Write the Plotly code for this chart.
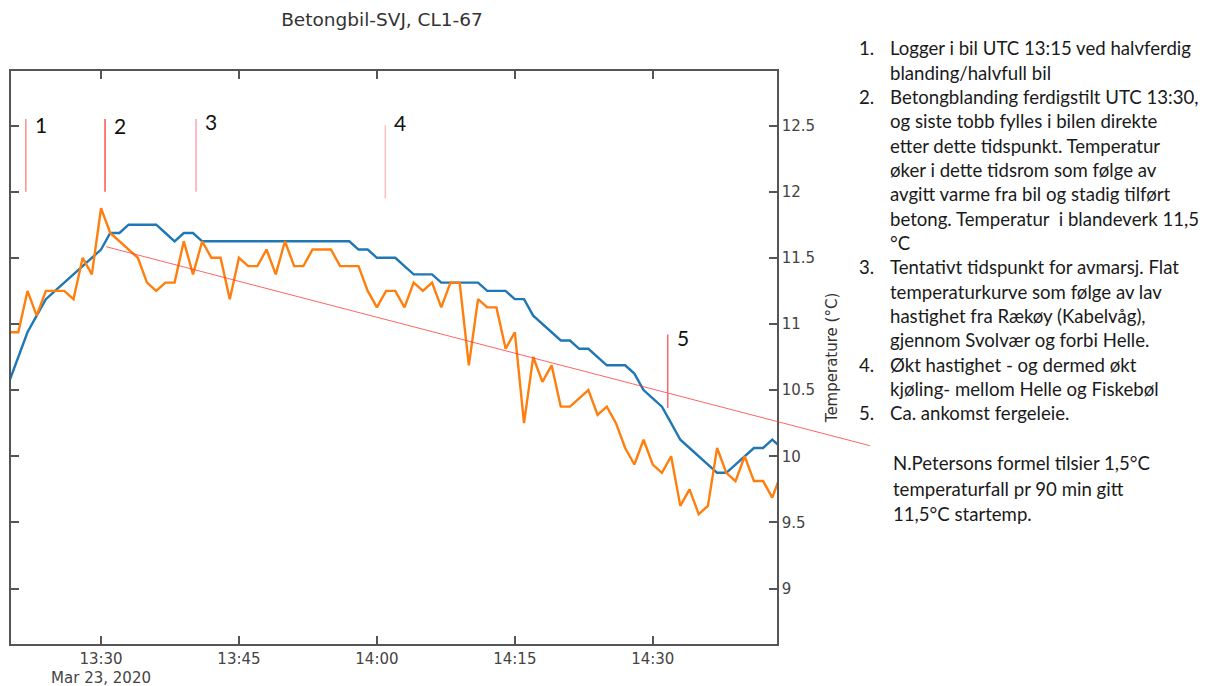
import pandas as pd
import plotly.graph_objects as go

# ---- data -------------------------------------------------------------
times = pd.date_range("2020-03-23 13:20", periods=85, freq="min")

# logger series, one reading per minute (13:20 .. 14:44)
blue = [
    10.5625, 10.75, 10.9375, 11.0625, 11.1875, 11.25, 11.3125, 11.375, 11.4375, 11.5,
    11.5625, 11.6875, 11.6875, 11.75, 11.75, 11.75, 11.75, 11.6875, 11.625, 11.6875,
    11.6875, 11.625, 11.625, 11.625, 11.625, 11.625, 11.625, 11.625, 11.625, 11.625,
    11.625, 11.625, 11.625, 11.625, 11.625, 11.625, 11.625, 11.625, 11.5625, 11.5625,
    11.5, 11.5, 11.5, 11.4375, 11.375, 11.375, 11.375, 11.3125, 11.3125, 11.3125,
    11.3125, 11.3125, 11.25, 11.25, 11.25, 11.1875, 11.1875, 11.0625, 11.0, 10.9375,
    10.875, 10.875, 10.8125, 10.8125, 10.75, 10.6875, 10.6875, 10.6875, 10.625, 10.5,
    10.4375, 10.375, 10.25, 10.125, 10.0625, 10.0, 9.9375, 9.875, 9.875, 9.9375,
    10.0, 10.0625, 10.0625, 10.125, 10.0625,
]
orange = [
    10.9375, 10.9375, 11.25, 11.0625, 11.25, 11.25, 11.25, 11.1875, 11.5, 11.375,
    11.875, 11.6875, 11.625, 11.5625, 11.5, 11.3125, 11.25, 11.3125, 11.3125, 11.625,
    11.375, 11.625, 11.5, 11.5, 11.1875, 11.5, 11.4375, 11.4375, 11.5625, 11.375,
    11.625, 11.4375, 11.4375, 11.5625, 11.5625, 11.5625, 11.4375, 11.4375, 11.4375, 11.25,
    11.125, 11.25, 11.25, 11.125, 11.3125, 11.25, 11.3125, 11.125, 11.3125, 11.3125,
    10.6875, 11.1875, 11.125, 11.125, 10.8125, 10.9375, 10.25, 10.75, 10.5625, 10.6875,
    10.375, 10.375, 10.4375, 10.5, 10.3125, 10.375, 10.25, 10.0625, 9.9375, 10.125,
    9.9375, 9.875, 10.0, 9.625, 9.75, 9.5625, 9.625, 10.0625, 9.875, 9.8125,
    10.0, 9.8125, 9.8125, 9.6875, 9.875,
]

# expected cooling line (N. Peterson)
trend_times = ["2020-03-23 13:30:33", "2020-03-23 14:53:37"]
trend_temps = [11.584, 10.080]

# event markers
marker_labels = ["1", "2", "3", "4", "5"]
marker_times = ["2020-03-23 13:21:49", "2020-03-23 13:30:26", "2020-03-23 13:40:20",
                "2020-03-23 14:00:55", "2020-03-23 14:31:38"]
marker_top = [12.55, 12.55, 12.55, 12.50, 10.92]
marker_bottom = [12.0, 12.0, 12.0, 11.95, 10.365]
label_temps = [12.51, 12.50, 12.53, 12.52, 10.90]
marker_colors = ["#ff8c8c", "#ff5252", "#ffa3b0", "#ffbcbc", "#ff6868"]

notes = [
    ("1.", "Logger i bil UTC 13:15 ved halvferdig"),
    ("", "blanding/halvfull bil"),
    ("2.", "Betongblanding ferdigstilt UTC 13:30,"),
    ("", "og siste tobb fylles i bilen direkte"),
    ("", "etter dette tidspunkt. Temperatur"),
    ("", "øker i dette tidsrom som følge av"),
    ("", "avgitt varme fra bil og stadig tilført"),
    ("", "betong. Temperatur  i blandeverk 11,5"),
    ("", "°C"),
    ("3.", "Tentativt tidspunkt for avmarsj. Flat"),
    ("", "temperaturkurve som følge av lav"),
    ("", "hastighet fra Rækøy (Kabelvåg),"),
    ("", "gjennom Svolvær og forbi Helle."),
    ("4.", "Økt hastighet - og dermed økt"),
    ("", "kjøling- mellom Helle og Fiskebøl"),
    ("5.", "Ca. ankomst fergeleie."),
]
formula_note = [
    "N.Petersons formel tilsier 1,5°C",
    "temperaturfall pr 90 min gitt",
    "11,5°C startemp.",
]

# ---- layout geometry (pixels) -----------------------------------------
W, H = 1211, 686
PL, PR, PT, PB = 11, 777, 71, 644      # plot frame
PAPER_R = 870                           # wider overlay subplot for the trend line
x_start = pd.Timestamp("2020-03-23 13:20:12.4")
px_per_min = 9.195
x_end = x_start + pd.Timedelta(minutes=(PR - PL) / px_per_min)
x2_end = x_start + pd.Timedelta(minutes=(PAPER_R - PL) / px_per_min)
y_range = [8.581, 12.912]


def paper_x(px):
    return (px - PL) / (PAPER_R - PL)


def paper_y(py):
    return (PB - py) / (PB - PT)


AX = "#555555"
TICKFONT = dict(family="DejaVu Sans", size=15, color="#444444")
NOTEFONT = dict(family="Lato", size=18.6, color="#1a1a1a")

fig = go.Figure()
fig.add_trace(go.Scatter(x=times, y=blue, mode="lines",
                         line=dict(color="#1f77b4", width=2.4), name="blue"))
fig.add_trace(go.Scatter(x=times, y=orange, mode="lines",
                         line=dict(color="#ff7f0e", width=2.4), name="orange"))
fig.add_trace(go.Scatter(x=trend_times, y=trend_temps, mode="lines",
                         line=dict(color="rgba(255,50,50,0.75)", width=1),
                         xaxis="x2", yaxis="y2", name="trend"))

shapes = []
annotations = []
for lab, t, y0, y1, ly, c in zip(marker_labels, marker_times, marker_top,
                                 marker_bottom, label_temps, marker_colors):
    shapes.append(dict(type="line", xref="x", yref="y", x0=t, x1=t, y0=y0, y1=y1,
                       line=dict(color=c, width=1.5)))
    annotations.append(dict(x=t, y=ly, xref="x", yref="y", text=lab, showarrow=False,
                            xanchor="left", yanchor="middle", xshift=7,
                            font=dict(family="Lato", size=21, color="#111111")))

for i, (num, line) in enumerate(notes):
    yc = 48.3 + 24.33 * i
    if num:
        annotations.append(dict(x=paper_x(857), y=paper_y(yc), xref="paper", yref="paper",
                                text=num, showarrow=False, xanchor="left",
                                yanchor="middle", font=NOTEFONT))
    annotations.append(dict(x=paper_x(888), y=paper_y(yc), xref="paper", yref="paper",
                            text=line, showarrow=False, xanchor="left",
                            yanchor="middle", font=NOTEFONT))

for i, line in enumerate(formula_note):
    yc = 463 + 25.5 * i
    annotations.append(dict(x=paper_x(891), y=paper_y(yc), xref="paper", yref="paper",
                            text=line, showarrow=False, xanchor="left",
                            yanchor="middle", font=NOTEFONT))

fig.update_layout(
    width=W, height=H,
    margin=dict(l=PL, r=W - PAPER_R, t=PT, b=H - PB, pad=0),
    paper_bgcolor="white", plot_bgcolor="rgba(0,0,0,0)",
    showlegend=False,
    title=dict(text="Betongbil-SVJ, CL1-67", x=382 / W, y=1 - 20 / H,
               xanchor="center", yanchor="middle",
               font=dict(family="DejaVu Sans", size=18.5, color="#333333")),
    xaxis=dict(domain=[0, (PR - PL) / (PAPER_R - PL)], anchor="y", type="date",
               range=[x_start, x_end], dtick=15 * 60 * 1000,
               tick0="2020-03-23 13:00", ticks="inside", ticklen=8, tickwidth=1.5,
               tickcolor=AX, showline=True, linecolor=AX, linewidth=1.5,
               mirror="ticks", showgrid=False, zeroline=False, tickfont=TICKFONT,
               automargin=False),
    yaxis=dict(domain=[0, 1], anchor="x", side="right", range=y_range,
               dtick=0.5, tick0=0, ticks="inside", ticklen=8, tickwidth=1.5,
               tickcolor=AX, showline=True, linecolor=AX, linewidth=1.5,
               mirror="ticks", showgrid=False, zeroline=False, tickfont=TICKFONT,
               automargin=False,
               title=dict(text="Temperature (°C)", standoff=12,
                          font=dict(family="DejaVu Sans", size=15, color="#333333"))),
    xaxis2=dict(domain=[0, 1], anchor="y2", type="date", range=[x_start, x2_end],
                visible=False),
    yaxis2=dict(domain=[0, 1], anchor="x2", range=y_range, visible=False),
    shapes=shapes,
    annotations=annotations,
)

fig.write_html("out.html")
